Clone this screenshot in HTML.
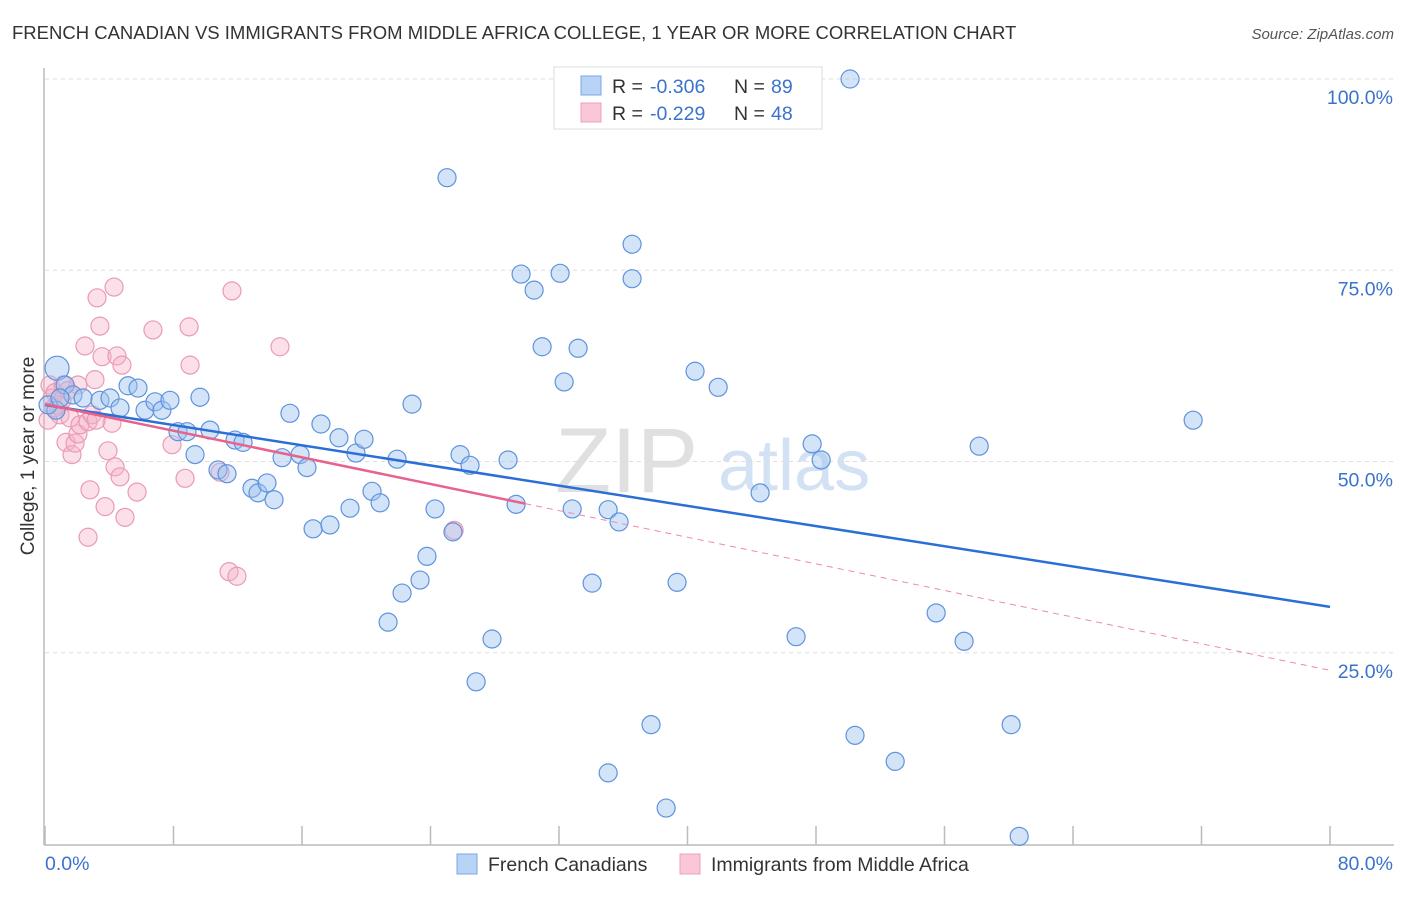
<!DOCTYPE html>
<html><head><meta charset="utf-8"><style>
body{margin:0;background:#fff;font-family:"Liberation Sans",sans-serif;}
svg text{font-family:"Liberation Sans",sans-serif;}
</style></head><body>
<svg id="chart" width="1406" height="892" xmlns="http://www.w3.org/2000/svg">
<text x="12" y="39" font-size="18.5" fill="#333">FRENCH CANADIAN VS IMMIGRANTS FROM MIDDLE AFRICA COLLEGE, 1 YEAR OR MORE CORRELATION CHART</text>
<text x="1394" y="39" font-size="15" fill="#555" text-anchor="end" font-style="italic">Source: ZipAtlas.com</text>
<g>
<text x="555" y="492" font-size="92" fill="#e0e0e0" font-family="Liberation Serif,serif">ZIP</text>
<text x="718" y="490" font-size="72" fill="#d2e1f4">atlas</text>
</g>
<g id="grid"></g>
<g id="axes"></g>
<g id="pts"></g>
<g id="trend"></g>
<g>
<rect x="554" y="67" width="268" height="62" fill="#fff" stroke="#ddd"/>
<rect x="581" y="76" width="20" height="19" fill="#b8d3f5" stroke="#7aa7e4"/>
<text x="612" y="93" font-size="19.5" fill="#333">R = </text>
<text x="650" y="93" font-size="19.5" fill="#3a73cc">-0.306</text>
<text x="734" y="93" font-size="19.5" fill="#333">N = </text>
<text x="771" y="93" font-size="19.5" fill="#3a73cc">89</text>
<rect x="581" y="103" width="20" height="19" fill="#f9c7d6" stroke="#eca0b8"/>
<text x="612" y="120" font-size="19.5" fill="#333">R = </text>
<text x="650" y="120" font-size="19.5" fill="#3a73cc">-0.229</text>
<text x="734" y="120" font-size="19.5" fill="#333">N = </text>
<text x="771" y="120" font-size="19.5" fill="#3a73cc">48</text>
</g>
<g>
<rect x="457" y="854" width="20" height="20" fill="#b8d3f5" stroke="#7aa7e4"/>
<text x="488" y="871" font-size="19.5" fill="#333">French Canadians</text>
<rect x="680" y="854" width="20" height="20" fill="#f9c7d6" stroke="#eca0b8"/>
<text x="711" y="871" font-size="19.5" fill="#333">Immigrants from Middle Africa</text>
</g>
<text transform="translate(34,456) rotate(-90)" font-size="19" fill="#333" text-anchor="middle">College, 1 year or more</text>
</svg>
<script>
const blueX=[0.75,1.25,1.74,2.37,3.42,4.05,4.67,5.17,5.79,6.23,6.85,7.28,7.78,8.28,8.84,9.34,9.65,10.27,10.77,11.33,11.83,12.33,12.89,13.26,13.82,14.26,14.76,15.25,15.88,16.31,16.69,17.18,17.74,18.30,18.99,19.36,19.86,20.36,20.86,21.36,21.92,22.23,22.85,23.35,23.78,24.28,25.03,25.40,25.84,26.46,26.84,27.83,28.83,29.33,29.64,30.45,30.95,32.07,32.32,32.82,33.19,34.06,35.06,35.06,35.74,36.55,36.55,37.73,38.67,39.35,40.47,41.91,44.52,46.76,47.76,48.32,50.12,50.43,52.93,55.48,57.22,58.16,60.15,60.65,71.48,0.68,0.19,0.93];
const blueY=[62.2,60.0,58.7,58.3,58.0,58.3,57.0,59.9,59.6,56.7,57.8,56.7,58.0,53.9,53.9,50.9,58.4,54.1,48.9,48.4,52.8,52.5,46.5,45.9,47.2,45.0,50.5,56.3,50.9,49.2,41.2,54.9,41.7,53.1,43.9,51.1,52.9,46.1,44.6,29.0,50.3,32.8,57.5,34.5,37.6,43.8,87.1,40.8,50.9,49.5,21.2,26.8,50.2,44.4,74.5,72.4,65.0,74.6,60.4,43.8,64.8,34.1,9.3,43.7,42.1,78.4,73.9,15.6,4.7,34.2,61.8,59.7,45.9,27.1,52.3,50.2,100,14.2,10.8,30.2,26.5,52.0,15.6,1.0,55.4,56.7,57.4,58.3];
const pinkX=[0.31,0.44,0.62,0.81,0.93,1.12,1.31,1.56,1.68,1.87,2.05,2.18,2.49,2.68,2.93,3.11,3.24,3.42,3.55,3.74,3.92,4.17,4.36,4.30,4.48,4.67,4.79,4.98,5.73,6.72,7.91,8.72,8.97,9.03,10.90,11.46,11.64,11.95,14.63,25.47,2.68,2.80,0.19,0.56,1.43,3.18,1.06,2.05];
const pinkY=[60.0,58.3,59.0,57.4,56.1,60.0,52.5,55.7,50.9,52.4,53.6,54.8,65.1,55.2,56.1,60.7,71.4,67.7,63.7,44.1,51.4,55.0,49.3,72.8,63.8,48.0,62.6,42.7,46.0,67.2,52.2,47.8,67.6,62.6,48.6,35.6,72.3,35.0,65.0,41.0,40.1,46.3,55.4,57.0,59.3,55.4,58.0,60.0];
const yTicks=[25,50,75,100];
const yTickLabels=["25.0%","50.0%","75.0%","100.0%"];
const xTickVals=[0,8,16,24,32,40,48,56,64,72,80];
const blueTrend=[57.4,31.0];
const pinkTrend=[57.5,22.7];
const pinkSolidEnd=29.9;

const NS="http://www.w3.org/2000/svg";
const X0=45,X1=1330,Y0=844,Y100=79;
const sx=v=>X0+(v/80)*(X1-X0);
const sy=v=>Y0-(v/100)*(Y0-Y100);
function mk(tag,attrs,parent){const e=document.createElementNS(NS,tag);for(const k in attrs)e.setAttribute(k,attrs[k]);document.getElementById(parent).appendChild(e);return e;}

yTicks.forEach((t,i)=>{
  const l=mk('line',{x1:45,x2:1394,y1:sy(t),y2:sy(t),stroke:'#ddd','stroke-dasharray':'4,4'},'grid');
  
  
  const tx=mk('text',{x:1393,y:sy(t)+25,'font-size':19.5,fill:'#3a73cc','text-anchor':'end'},'grid');
  tx.textContent=yTickLabels[i];
  
  
});
const ax=mk('line',{x1:44,x2:44,y1:68,y2:845,stroke:'#bbb','stroke-width':1.5},'axes');


const bx=mk('line',{x1:44,x2:1394,y1:845,y2:845,stroke:'#bbb','stroke-width':1.5},'axes');


xTickVals.forEach(v=>{
  const t=mk('line',{x1:sx(v),x2:sx(v),y1:826,y2:845,stroke:'#bbb','stroke-width':1.5},'axes');
  
  
});
const xl0=mk('text',{x:45,y:870,'font-size':19.5,fill:'#3a73cc'},'axes');xl0.textContent='0.0%';


const xl1=mk('text',{x:1393,y:870,'font-size':19.5,fill:'#3a73cc','text-anchor':'end'},'axes');xl1.textContent='80.0%';



pinkX.forEach((x,i)=>{
  const c=mk('circle',{cx:sx(x),cy:sy(pinkY[i]),r:9,fill:'rgba(246,178,200,0.4)',stroke:'#eb9ab3','stroke-width':1.2},'pts');
  
  
});
blueX.forEach((x,i)=>{
  const c=mk('circle',{cx:sx(x),cy:sy(blueY[i]),r:i===0?12:9,fill:'rgba(160,196,240,0.45)',stroke:'#5e93dd','stroke-width':1.2},'pts');
  
  
});
const bl=mk('line',{x1:sx(0),y1:sy(blueTrend[0]),x2:sx(80),y2:sy(blueTrend[1]),stroke:'#2a6fd6','stroke-width':2.5},'trend');


const pe=pinkTrend[0]+(pinkTrend[1]-pinkTrend[0])*pinkSolidEnd/80;
const pl=mk('line',{x1:sx(0),y1:sy(pinkTrend[0]),x2:sx(pinkSolidEnd),y2:sy(pe),stroke:'#e8628c','stroke-width':2.5},'trend');


const pd=mk('line',{x1:sx(pinkSolidEnd),y1:sy(pe),x2:sx(80),y2:sy(pinkTrend[1]),stroke:'#ec8aa8','stroke-width':1,'stroke-dasharray':'6,5'},'trend');


</script>
</body></html>
